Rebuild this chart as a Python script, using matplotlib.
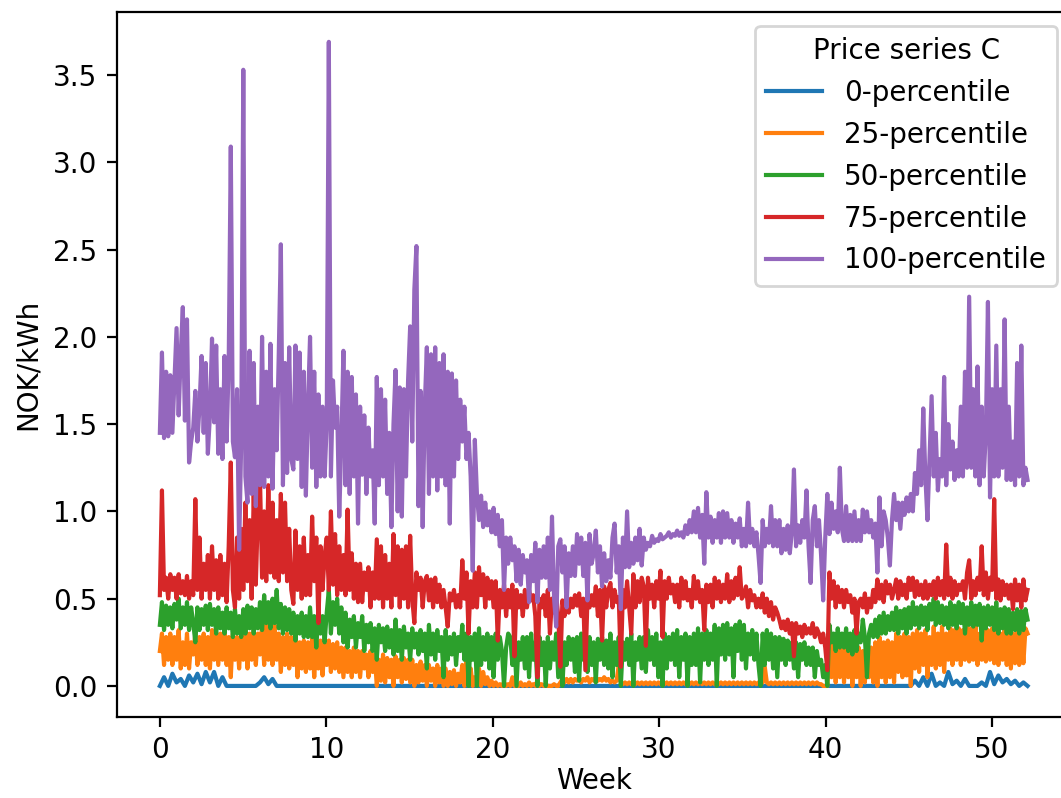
import numpy as np
from matplotlib import pyplot as plt

# Prices: blue at 4 points per week, the others at 8 per week
p0 = [
    0.00, 0.05, 0.00, 0.07,  0.02, 0.04, 0.00, 0.06,  0.02, 0.07, 0.01, 0.08,  0.02, 0.08, 0.00, 0.05,
    0.00, 0.00, 0.00, 0.00,  0.00, 0.00, 0.00, 0.00,  0.02, 0.05, 0.01, 0.04,  0.00, 0.00, 0.00, 0.00,
    0.00, 0.00, 0.00, 0.00,  0.00, 0.00, 0.00, 0.00,  0.00, 0.00, 0.00, 0.00,  0.00, 0.00, 0.00, 0.00,
    0.00, 0.00, 0.00, 0.00,  0.00, 0.00, 0.00, 0.00,  0.00, 0.00, 0.00, 0.00,  0.00, 0.00, 0.00, 0.00,
    0.00, 0.00, 0.00, 0.00,  0.00, 0.00, 0.00, 0.00,  0.00, 0.00, 0.00, 0.00,  0.00, 0.00, 0.00, 0.00,
    0.00, 0.00, 0.00, 0.00,  0.00, 0.00, 0.00, 0.00,  0.00, 0.00, 0.00, 0.00,  0.00, 0.00, 0.00, 0.00,
    0.00, 0.00, 0.00, 0.00,  0.00, 0.00, 0.00, 0.00,  0.00, 0.00, 0.00, 0.00,  0.00, 0.00, 0.00, 0.00,
    0.00, 0.00, 0.00, 0.00,  0.00, 0.00, 0.00, 0.00,  0.00, 0.00, 0.00, 0.00,  0.00, 0.00, 0.00, 0.00,
    0.00, 0.00, 0.00, 0.00,  0.00, 0.00, 0.00, 0.00,  0.00, 0.00, 0.00, 0.00,  0.00, 0.00, 0.00, 0.00,
    0.00, 0.00, 0.00, 0.00,  0.00, 0.00, 0.00, 0.00,  0.00, 0.00, 0.00, 0.00,  0.00, 0.00, 0.00, 0.00,
    0.00, 0.00, 0.00, 0.00,  0.00, 0.00, 0.00, 0.00,  0.00, 0.00, 0.00, 0.00,  0.00, 0.00, 0.00, 0.00,
    0.00, 0.00, 0.00, 0.00,  0.00, 0.03, 0.00, 0.05,  0.00, 0.07, 0.00, 0.02,  0.00, 0.08, 0.01, 0.03,
    0.00, 0.04, 0.00, 0.00,  0.00, 0.02, 0.00, 0.08,  0.01, 0.06, 0.02, 0.04,  0.01, 0.03, 0.00, 0.02,
    0.00,
]
p25 = [
    0.20, 0.30, 0.12, 0.28, 0.15, 0.30, 0.12, 0.28,
    0.15, 0.32, 0.10, 0.25, 0.12, 0.30, 0.10, 0.25,
    0.18, 0.30, 0.12, 0.28, 0.15, 0.30, 0.12, 0.28,
    0.10, 0.32, 0.15, 0.30, 0.12, 0.30, 0.15, 0.30,
    0.12, 0.28, 0.05, 0.30, 0.15, 0.28, 0.10, 0.30,
    0.15, 0.32, 0.10, 0.30, 0.15, 0.32, 0.12, 0.30,
    0.18, 0.35, 0.12, 0.36, 0.15, 0.33, 0.12, 0.35,
    0.15, 0.30, 0.08, 0.28, 0.12, 0.30, 0.10, 0.28,
    0.12, 0.27, 0.05, 0.25, 0.10, 0.26, 0.08, 0.25,
    0.10, 0.28, 0.05, 0.24, 0.10, 0.26, 0.06, 0.24,
    0.12, 0.26, 0.08, 0.24, 0.10, 0.25, 0.08, 0.22,
    0.05, 0.22, 0.08, 0.20, 0.05, 0.22, 0.08, 0.20,
    0.05, 0.20, 0.10, 0.18, 0.05, 0.20, 0.08, 0.18,
    0.00, 0.15, 0.03, 0.18, 0.02, 0.16, 0.05, 0.15,
    0.00, 0.17, 0.05, 0.15, 0.02, 0.16, 0.04, 0.15,
    0.02, 0.15, 0.00, 0.12, 0.02, 0.14, 0.03, 0.12,
    0.00, 0.12, 0.03, 0.10, 0.00, 0.12, 0.02, 0.10,
    0.00, 0.10, 0.00, 0.08, 0.01, 0.09, 0.00, 0.07,
    0.02, 0.12, 0.00, 0.15, 0.02, 0.10, 0.00, 0.05,
    0.05, 0.10, 0.00, 0.08, 0.01, 0.05, 0.00, 0.03,
    0.00, 0.02, 0.00, 0.01, 0.00, 0.02, 0.00, 0.01,
    0.00, 0.05, 0.00, 0.01, 0.00, 0.02, 0.00, 0.01,
    0.00, 0.02, 0.00, 0.01, 0.00, 0.03, 0.00, 0.01,
    0.00, 0.01, 0.00, 0.00, 0.00, 0.01, 0.00, 0.00,
    0.02, 0.04, 0.02, 0.04, 0.02, 0.04, 0.02, 0.04,
    0.03, 0.04, 0.02, 0.04, 0.03, 0.05, 0.02, 0.04,
    0.03, 0.05, 0.03, 0.04, 0.03, 0.05, 0.03, 0.04,
    0.02, 0.03, 0.02, 0.03, 0.12, 0.02, 0.01, 0.02,
    0.01, 0.02, 0.01, 0.02, 0.01, 0.02, 0.01, 0.02,
    0.01, 0.02, 0.01, 0.02, 0.01, 0.02, 0.01, 0.02,
    0.01, 0.02, 0.01, 0.02, 0.01, 0.02, 0.01, 0.02,
    0.01, 0.02, 0.01, 0.02, 0.01, 0.02, 0.01, 0.02,
    0.01, 0.02, 0.01, 0.02, 0.01, 0.02, 0.01, 0.02,
    0.01, 0.02, 0.01, 0.02, 0.01, 0.02, 0.01, 0.02,
    0.01, 0.02, 0.01, 0.02, 0.01, 0.02, 0.01, 0.02,
    0.01, 0.02, 0.01, 0.02, 0.01, 0.02, 0.01, 0.02,
    0.01, 0.02, 0.11, 0.02, 0.01, 0.02, 0.01, 0.02,
    0.01, 0.02, 0.01, 0.02, 0.01, 0.02, 0.01, 0.02,
    0.01, 0.02, 0.01, 0.02, 0.01, 0.02, 0.01, 0.02,
    0.01, 0.02, 0.01, 0.02, 0.01, 0.01, 0.00, 0.00,
    0.00, 0.25, 0.05, 0.28, 0.02, 0.22, 0.05, 0.28,
    0.02, 0.25, 0.05, 0.22, 0.00, 0.20, 0.05, 0.22,
    0.00, 0.20, 0.02, 0.25, 0.05, 0.22, 0.02, 0.25,
    0.00, 0.28, 0.05, 0.25, 0.02, 0.26, 0.05, 0.25,
    0.02, 0.30, 0.08, 0.28, 0.05, 0.30, 0.06, 0.28,
    0.00, 0.30, 0.10, 0.32, 0.08, 0.30, 0.12, 0.32,
    0.05, 0.28, 0.12, 0.34, 0.10, 0.30, 0.12, 0.34,
    0.08, 0.30, 0.15, 0.33, 0.12, 0.32, 0.15, 0.33,
    0.12, 0.32, 0.15, 0.35, 0.14, 0.33, 0.15, 0.35,
    0.12, 0.30, 0.15, 0.33, 0.14, 0.32, 0.15, 0.33,
    0.13, 0.32, 0.12, 0.30, 0.15, 0.32, 0.12, 0.30,
    0.10, 0.30, 0.13, 0.33, 0.12, 0.32, 0.13, 0.33,
    0.30,
]
p50 = [
    0.35, 0.48, 0.32, 0.46, 0.35, 0.45, 0.33, 0.47,
    0.38, 0.50, 0.33, 0.45, 0.35, 0.48, 0.32, 0.45,
    0.36, 0.25, 0.45, 0.32, 0.44, 0.35, 0.46, 0.32,
    0.47, 0.35, 0.44, 0.30, 0.45, 0.33, 0.42, 0.30,
    0.45, 0.33, 0.42, 0.28, 0.44, 0.30, 0.40, 0.28,
    0.44, 0.30, 0.46, 0.33, 0.45, 0.30, 0.44, 0.33,
    0.48, 0.32, 0.52, 0.36, 0.48, 0.33, 0.50, 0.36,
    0.55, 0.33, 0.47, 0.30, 0.45, 0.32, 0.44, 0.30,
    0.42, 0.26, 0.40, 0.30, 0.42, 0.28, 0.40, 0.28,
    0.45, 0.28, 0.40, 0.22, 0.42, 0.30, 0.40, 0.25,
    0.42, 0.55, 0.30, 0.48, 0.35, 0.50, 0.30, 0.45,
    0.25, 0.42, 0.22, 0.38, 0.28, 0.40, 0.22, 0.36,
    0.28, 0.40, 0.20, 0.35, 0.25, 0.36, 0.20, 0.33,
    0.15, 0.35, 0.25, 0.33, 0.20, 0.34, 0.22, 0.32,
    0.18, 0.38, 0.20, 0.32, 0.15, 0.34, 0.22, 0.30,
    0.15, 0.33, 0.22, 0.30, 0.18, 0.32, 0.20, 0.30,
    0.10, 0.35, 0.18, 0.30, 0.15, 0.32, 0.20, 0.28,
    0.05, 0.32, 0.15, 0.28, 0.18, 0.30, 0.12, 0.28,
    0.20, 0.35, 0.15, 0.30, 0.00, 0.28, 0.15, 0.30,
    0.00, 0.33, 0.12, 0.28, 0.15, 0.30, 0.10, 0.28,
    0.05, 0.30, 0.15, 0.28, 0.20, 0.00, 0.22, 0.30,
    0.28, 0.12, 0.25, 0.00, 0.25, 0.15, 0.28, 0.10,
    0.28, 0.05, 0.30, 0.15, 0.25, 0.00, 0.28, 0.12,
    0.25, 0.00, 0.28, 0.10, 0.25, 0.15, 0.30, 0.05,
    0.30, 0.00, 0.25, 0.12, 0.28, 0.15, 0.27, 0.08,
    0.28, 0.03, 0.30, 0.15, 0.26, 0.08, 0.28, 0.12,
    0.25, 0.02, 0.27, 0.15, 0.28, 0.12, 0.26, 0.10,
    0.30, 0.05, 0.25, 0.12, 0.28, 0.00, 0.25, 0.15,
    0.27, 0.12, 0.30, 0.00, 0.25, 0.15, 0.28, 0.10,
    0.28, 0.08, 0.32, 0.15, 0.28, 0.12, 0.30, 0.05,
    0.25, 0.00, 0.30, 0.10, 0.28, 0.15, 0.30, 0.12,
    0.32, 0.05, 0.28, 0.15, 0.30, 0.00, 0.28, 0.12,
    0.30, 0.12, 0.33, 0.02, 0.30, 0.15, 0.32, 0.12,
    0.30, 0.15, 0.35, 0.00, 0.33, 0.18, 0.35, 0.15,
    0.36, 0.18, 0.33, 0.05, 0.35, 0.20, 0.37, 0.15,
    0.35, 0.10, 0.30, 0.18, 0.32, 0.15, 0.30, 0.12,
    0.00, 0.30, 0.12, 0.32, 0.15, 0.30, 0.10, 0.28,
    0.05, 0.28, 0.15, 0.27, 0.12, 0.26, 0.15, 0.25,
    0.10, 0.25, 0.05, 0.24, 0.15, 0.25, 0.12, 0.22,
    0.12, 0.22, 0.05, 0.20, 0.12, 0.15, 0.05, 0.12,
    0.00, 0.35, 0.25, 0.30, 0.20, 0.33, 0.22, 0.30,
    0.22, 0.33, 0.20, 0.30, 0.18, 0.32, 0.20, 0.30,
    0.25, 0.38, 0.28, 0.05, 0.30, 0.35, 0.28, 0.38,
    0.28, 0.40, 0.30, 0.42, 0.30, 0.40, 0.32, 0.42,
    0.32, 0.45, 0.30, 0.43, 0.33, 0.44, 0.30, 0.45,
    0.33, 0.48, 0.35, 0.45, 0.33, 0.46, 0.35, 0.45,
    0.32, 0.47, 0.38, 0.50, 0.35, 0.48, 0.36, 0.46,
    0.35, 0.45, 0.33, 0.48, 0.35, 0.46, 0.33, 0.48,
    0.36, 0.47, 0.30, 0.45, 0.35, 0.48, 0.34, 0.46,
    0.35, 0.47, 0.26, 0.45, 0.33, 0.46, 0.35, 0.45,
    0.32, 0.48, 0.30, 0.44, 0.33, 0.45, 0.30, 0.44,
    0.30, 0.42, 0.32, 0.44, 0.30, 0.43, 0.32, 0.44,
    0.38,
]
p75 = [
    0.52, 1.12, 0.55, 0.62, 0.50, 0.64, 0.55, 0.62,
    0.50, 0.64, 0.53, 0.60, 0.52, 0.63, 0.50, 0.60,
    0.52, 1.07, 0.55, 0.85, 0.50, 0.70, 0.55, 0.75,
    0.50, 0.80, 0.55, 0.72, 0.50, 0.75, 0.52, 0.70,
    0.48, 0.80, 1.28, 0.55, 0.45, 0.85, 0.50, 0.90,
    0.55, 1.05, 0.60, 0.95, 0.50, 1.10, 0.58, 1.00,
    1.19, 0.62, 1.00, 0.60, 1.15, 0.65, 1.05, 0.62,
    0.95, 0.60, 1.10, 0.65, 1.05, 0.60, 0.90, 0.55,
    0.47, 0.89, 0.55, 0.80, 0.50, 0.85, 0.52, 0.75,
    0.52, 0.97, 0.60, 0.85, 0.36, 0.80, 0.55, 0.75,
    0.85, 0.55, 1.00, 0.58, 0.87, 0.52, 0.80, 0.55,
    0.75, 0.52, 1.01, 0.55, 0.76, 0.50, 0.70, 0.48,
    0.70, 0.48, 0.65, 0.55, 0.68, 0.45, 0.65, 0.50,
    0.84, 0.50, 0.80, 0.45, 0.75, 0.50, 0.70, 0.45,
    0.87, 0.52, 0.80, 0.45, 0.78, 0.50, 0.80, 0.45,
    0.86, 0.50, 0.36, 0.65, 0.55, 0.62, 0.45, 0.60,
    0.63, 0.49, 0.61, 0.45, 0.62, 0.48, 0.58, 0.45,
    0.55, 0.45, 0.34, 0.53, 0.49, 0.55, 0.45, 0.52,
    0.45, 0.72, 0.50, 0.65, 0.30, 0.60, 0.45, 0.65,
    0.45, 0.68, 0.52, 0.64, 0.45, 0.62, 0.50, 0.60,
    0.45, 0.60, 0.26, 0.55, 0.45, 0.58, 0.40, 0.55,
    0.45, 0.58, 0.17, 0.55, 0.45, 0.52, 0.40, 0.55,
    0.45, 0.55, 0.49, 0.52, 0.40, 0.05, 0.50, 0.45,
    0.52, 0.40, 0.55, 0.30, 0.50, 0.42, 0.52, 0.40,
    0.11, 0.49, 0.40, 0.52, 0.42, 0.50, 0.45, 0.52,
    0.46, 0.53, 0.40, 0.50, 0.09, 0.50, 0.45, 0.52,
    0.46, 0.57, 0.40, 0.55, 0.26, 0.57, 0.45, 0.55,
    0.59, 0.45, 0.55, 0.48, 0.51, 0.11, 0.55, 0.45,
    0.60, 0.45, 0.30, 0.64, 0.45, 0.60, 0.48, 0.62,
    0.57, 0.23, 0.62, 0.50, 0.58, 0.45, 0.60, 0.50,
    0.66, 0.28, 0.60, 0.50, 0.62, 0.53, 0.58, 0.48,
    0.58, 0.45, 0.62, 0.50, 0.60, 0.49, 0.55, 0.45,
    0.63, 0.50, 0.60, 0.48, 0.55, 0.32, 0.58, 0.48,
    0.58, 0.45, 0.62, 0.50, 0.60, 0.48, 0.58, 0.50,
    0.64, 0.48, 0.60, 0.50, 0.62, 0.52, 0.68, 0.50,
    0.52, 0.57, 0.45, 0.55, 0.49, 0.52, 0.45, 0.50,
    0.45, 0.53, 0.42, 0.50, 0.40, 0.48, 0.38, 0.45,
    0.42, 0.38, 0.33, 0.37, 0.32, 0.38, 0.30, 0.36,
    0.17, 0.36, 0.30, 0.34, 0.28, 0.35, 0.30, 0.33,
    0.30, 0.36, 0.28, 0.33, 0.30, 0.25, 0.30, 0.22,
    0.09, 0.65, 0.50, 0.60, 0.45, 0.57, 0.48, 0.55,
    0.45, 0.55, 0.48, 0.52, 0.42, 0.50, 0.30, 0.48,
    0.50, 0.45, 0.53, 0.42, 0.50, 0.45, 0.55, 0.48,
    0.61, 0.50, 0.58, 0.48, 0.60, 0.53, 0.58, 0.50,
    0.55, 0.61, 0.50, 0.60, 0.52, 0.58, 0.50, 0.62,
    0.55, 0.62, 0.51, 0.60, 0.52, 0.58, 0.50, 0.60,
    0.50, 0.58, 0.52, 0.60, 0.50, 0.62, 0.52, 0.60,
    0.50, 0.81, 0.52, 0.62, 0.50, 0.60, 0.52, 0.58,
    0.55, 0.60, 0.50, 0.65, 0.72, 0.50, 0.60, 0.52,
    0.62, 0.55, 0.80, 0.52, 0.65, 0.50, 0.62, 0.55,
    1.07, 0.50, 0.61, 0.49, 0.60, 0.52, 0.58, 0.50,
    0.58, 0.44, 0.61, 0.49, 0.58, 0.45, 0.61, 0.49,
    0.55,
]
p100 = [
    1.45, 1.91, 1.42, 1.80, 1.43, 1.78, 1.45, 1.75,
    2.05, 1.55, 1.90, 2.17, 1.52, 2.10, 1.28, 1.40,
    1.48, 1.69, 1.40, 1.60, 1.89, 1.45, 1.85, 1.33,
    1.55, 1.99, 1.51, 1.95, 1.33, 1.70, 1.30, 1.89,
    1.40, 1.85, 3.09, 1.40, 1.31, 1.70, 0.78, 1.40,
    3.53, 1.20, 1.05, 1.92, 1.10, 1.85, 1.03, 1.60,
    1.15, 2.00, 1.14, 1.80, 1.20, 1.96, 1.13, 1.70,
    1.35, 1.90, 2.53, 1.15, 1.85, 1.22, 1.94, 1.30,
    1.24, 1.95, 1.30, 1.91, 1.14, 1.80, 1.09, 1.60,
    2.00, 1.25, 1.80, 1.14, 1.67, 1.20, 1.60, 1.20,
    1.50, 3.69, 1.20, 1.75, 1.48, 1.60, 0.97, 1.40,
    1.92, 1.15, 1.80, 1.10, 1.77, 1.20, 1.67, 0.93,
    1.60, 1.21, 1.55, 1.10, 1.48, 1.20, 1.35, 0.93,
    1.77, 1.15, 1.70, 1.20, 1.64, 1.10, 1.45, 0.91,
    1.50, 1.81, 1.00, 1.71, 0.97, 1.70, 1.20, 1.75,
    2.06, 1.40, 2.27, 2.52, 1.03, 1.69, 0.91, 1.60,
    1.94, 1.10, 1.90, 1.20, 1.94, 1.12, 1.85, 1.20,
    1.90, 1.15, 1.80, 0.93, 1.79, 1.20, 1.75, 1.30,
    1.64, 1.40, 1.60, 1.30, 1.45, 1.20, 0.66, 1.41,
    1.10, 0.95, 1.09, 0.91, 1.05, 0.92, 1.00, 0.88,
    1.02, 0.87, 0.98, 0.80, 0.95, 0.55, 0.85, 0.70,
    0.85, 0.72, 0.80, 0.60, 0.78, 0.58, 0.75, 0.65,
    0.72, 0.48, 0.75, 0.60, 0.82, 0.48, 0.78, 0.62,
    0.80, 0.62, 0.85, 0.55, 0.97, 0.50, 0.34, 0.80,
    0.84, 0.65, 0.80, 0.45, 0.76, 0.63, 0.80, 0.63,
    0.87, 0.70, 0.85, 0.63, 0.82, 0.49, 0.87, 0.70,
    0.76, 0.89, 0.65, 0.80, 0.57, 0.76, 0.60, 0.72,
    0.62, 0.85, 0.93, 0.65, 0.80, 0.44, 0.85, 0.68,
    1.00, 0.68, 0.82, 0.70, 0.85, 0.72, 0.90, 0.69,
    0.85, 0.78, 0.82, 0.80, 0.86, 0.82, 0.84, 0.83,
    0.87, 0.84, 0.85, 0.86, 0.88, 0.85, 0.87, 0.86,
    0.89, 0.86, 0.88, 0.85, 0.92, 0.87, 0.95, 0.88,
    1.00, 0.88, 1.02, 0.85, 0.98, 0.70, 1.11, 0.85,
    0.97, 0.82, 0.95, 0.85, 0.99, 0.82, 1.00, 0.85,
    0.99, 0.85, 0.95, 0.82, 0.93, 0.85, 0.96, 0.80,
    0.90, 0.80, 1.05, 0.82, 0.90, 0.80, 0.88, 0.75,
    0.59, 0.95, 0.80, 0.90, 0.82, 1.03, 0.80, 0.95,
    0.80, 0.95, 0.76, 0.90, 0.78, 0.92, 0.76, 0.88,
    1.24, 0.80, 0.92, 0.82, 0.95, 0.85, 1.12, 0.80,
    0.59, 0.95, 1.03, 0.80, 0.95, 0.75, 0.49, 0.85,
    1.10, 0.87, 1.05, 0.90, 1.00, 0.88, 1.25, 0.90,
    0.83, 1.03, 0.83, 0.98, 0.83, 1.00, 0.83, 0.95,
    0.83, 1.01, 0.88, 1.00, 0.88, 0.95, 0.85, 0.93,
    0.65, 1.08, 0.80, 1.00, 0.95, 0.85, 0.69, 0.95,
    1.10, 0.95, 1.05, 0.90, 1.05, 0.98, 1.08, 1.00,
    1.10, 1.00, 1.22, 1.10, 1.35, 1.15, 1.59, 1.20,
    0.95, 1.30, 1.66, 1.20, 1.45, 1.12, 1.30, 1.20,
    1.77, 1.15, 1.50, 1.24, 1.40, 1.18, 1.35, 1.20,
    1.60, 1.20, 1.80, 1.25, 2.23, 1.25, 1.70, 1.20,
    1.83, 1.15, 1.60, 1.20, 1.45, 2.20, 1.08, 1.70,
    1.20, 1.95, 1.20, 1.70, 1.25, 2.10, 1.18, 1.60,
    1.18, 1.40, 1.15, 1.85, 1.20, 1.95, 1.15, 1.25,
    1.18,
]

series = [p0, p25, p50, p75, p100]
labels = ['0-percentile', '25-percentile', '50-percentile', '75-percentile', '100-percentile']
last_week = 52.14  # one year of hours, in weeks

fig = plt.figure(figsize=(1061 / 200, 798 / 200), dpi=200)
# the original is cropped on the right, so the axes run past the figure edge
ax = fig.add_axes([116.6 / 1061, 1 - 717 / 798, (1071 - 116.6) / 1061, 705 / 798])

for vals, lab in zip(series, labels):
    weeks = np.linspace(0, last_week, len(vals))
    ax.plot(weeks, vals, label=lab)

ax.set_xlim(-2.6, 54.75)
ax.set_ylim(-0.178, 3.861)
ax.set_xlabel('Week', labelpad=1)
ax.set_ylabel('NOK/kWh')
ax.legend(title='Price series C', loc='upper right')

fig.savefig('out.png', dpi=200)
